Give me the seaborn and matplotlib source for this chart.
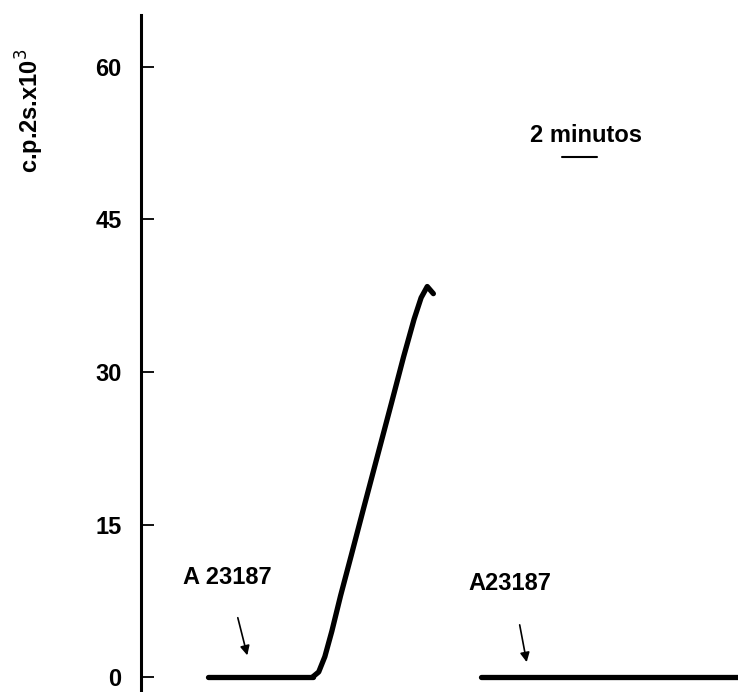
import pandas as pd
import matplotlib.pyplot as plt
import seaborn as sns

# trazos del registro (tiempo en minutos, cuentas c.p.2s x10^3)
t_control = [3.8, 6.0, 8.0, 9.8]
y_control = [0.0, 0.0, 0.0, 0.0]

t_subida = [9.8, 10.15, 10.5, 10.9, 11.4, 12.0, 12.7, 13.5, 14.3, 15.0, 15.6, 16.0, 16.35, 16.7]
y_subida = [0.0, 0.5, 2.0, 4.5, 8.0, 11.9, 16.5, 21.7, 26.9, 31.5, 35.2, 37.3, 38.4, 37.7]

t_segundo = [19.4, 24.0, 29.0, 34.1]
y_segundo = [0.0, 0.0, 0.0, 0.0]

yticks = [0, 15, 30, 45, 60]
etiquetas = ["A 23187", "A23187"]

sns.set_style("white")
plt.rcParams['font.family'] = ['Liberation Sans', 'DejaVu Sans']
plt.rcParams['text.color'] = 'black'
plt.rcParams['ytick.color'] = 'black'

fig = plt.figure(figsize=(7.38, 6.92), dpi=100)
ax = fig.add_axes([141 / 738, 0, 1 - 141 / 738, 1 - 15 / 692])

df1 = pd.DataFrame({"t": t_control, "y": y_control})
df2 = pd.DataFrame({"t": t_subida, "y": y_subida})
df3 = pd.DataFrame({"t": t_segundo, "y": y_segundo})
for d in (df1, df2, df3):
    sns.lineplot(data=d, x="t", y="y", color="black", linewidth=3.8, sort=False,
                 solid_capstyle="round", solid_joinstyle="round", ax=ax)

ax.set_xlim(0, 34.1)
ax.set_ylim(-1.47, 65.1)
ax.set_yticks(yticks)
ax.set_yticklabels([str(v) for v in yticks], fontsize=17, fontweight="bold", color="black")
ax.set_xticks([])
ax.set_xlabel("")
ax.set_ylabel("")
ax.tick_params(axis="y", direction="in", length=9, width=1.3, pad=14, left=True, colors="black")
for s in ["top", "right", "bottom"]:
    ax.spines[s].set_visible(False)
ax.spines["left"].set_linewidth(2.2)
ax.spines["left"].set_color("black")

# escala de tiempo
ax.plot([24.06, 26.06], [51.1, 51.1], color="black", linewidth=1.5)
ax.text(25.4, 53.3, "2 minutos", ha="center", va="center", fontsize=17, fontweight="bold", color="black")

# agregados del ionoforo
ax.text(2.4, 9.8, etiquetas[0], ha="left", va="center", fontsize=17, fontweight="bold", color="black")
ax.text(18.7, 9.2, etiquetas[1], ha="left", va="center", fontsize=17, fontweight="bold", color="black")
ax.annotate("", xy=(6.11, 1.87), xytext=(5.49, 6.1),
            arrowprops=dict(arrowstyle="-|>", color="black", lw=1.2, mutation_scale=14))
ax.annotate("", xy=(22.06, 1.2), xytext=(21.6, 5.4),
            arrowprops=dict(arrowstyle="-|>", color="black", lw=1.2, mutation_scale=14))

fig.text(30 / 738, 1 - 111 / 692, "c.p.2s.x10$^3$", rotation=90, ha="center", va="center",
         fontsize=17, fontweight="bold", color="black")

fig.savefig("out.png", dpi=100)
